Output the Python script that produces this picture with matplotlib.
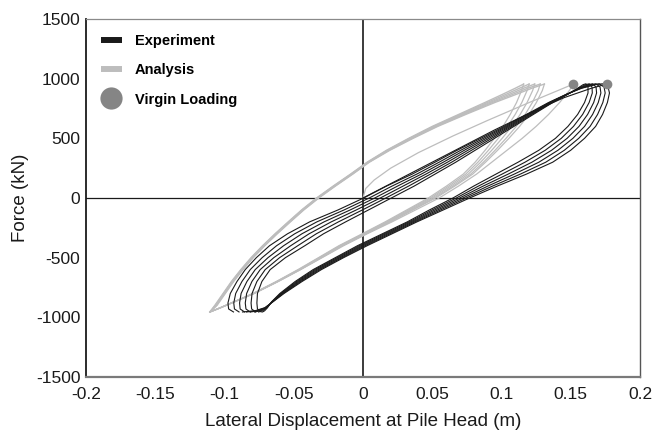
import matplotlib.pyplot as plt
from matplotlib.lines import Line2D

plt.rcParams['font.family'] = ['Liberation Sans', 'DejaVu Sans']
plt.rcParams['axes.unicode_minus'] = False

# experiment loops: shared force levels (kN), displacement (m) per cycle
exp_up_force = [-955, -930, -880, -800, -700, -600, -500, -400, -300, -200, -100, 0,
                100, 200, 300, 400, 500, 600, 700, 800, 870, 920, 950]
exp_up_x = [
    [-0.0735, -0.0762, -0.0766, -0.0762, -0.0730, -0.0670, -0.0560, -0.0420, -0.0285, -0.0125, 0.0040, 0.0205,
     0.0370, 0.0520, 0.0670, 0.0810, 0.0950, 0.1090, 0.1230, 0.1370, 0.1480, 0.1550, 0.1590],
    [-0.0775, -0.0804, -0.0808, -0.0801, -0.0766, -0.0706, -0.0602, -0.0471, -0.0337, -0.0177, -0.0004, 0.0165,
     0.0330, 0.0487, 0.0640, 0.0784, 0.0930, 0.1076, 0.1220, 0.1364, 0.1478, 0.1556, 0.1608],
    [-0.0815, -0.0845, -0.0850, -0.0840, -0.0802, -0.0742, -0.0644, -0.0522, -0.0389, -0.0229, -0.0048, 0.0125,
     0.0290, 0.0454, 0.0610, 0.0758, 0.0910, 0.1062, 0.1210, 0.1358, 0.1476, 0.1562, 0.1626],
    [-0.0855, -0.0887, -0.0891, -0.0880, -0.0838, -0.0778, -0.0686, -0.0573, -0.0441, -0.0281, -0.0092, 0.0085,
     0.0250, 0.0421, 0.0580, 0.0732, 0.0890, 0.1048, 0.1200, 0.1352, 0.1474, 0.1568, 0.1644],
    [-0.0895, -0.0928, -0.0933, -0.0919, -0.0874, -0.0814, -0.0728, -0.0624, -0.0493, -0.0333, -0.0136, 0.0045,
     0.0210, 0.0388, 0.0550, 0.0706, 0.0870, 0.1034, 0.1190, 0.1346, 0.1472, 0.1574, 0.1662],
    [-0.0935, -0.0970, -0.0975, -0.0958, -0.0910, -0.0850, -0.0770, -0.0675, -0.0545, -0.0385, -0.0180, 0.0005,
     0.0170, 0.0355, 0.0520, 0.0680, 0.0850, 0.1020, 0.1180, 0.1340, 0.1470, 0.1580, 0.1680],
]
exp_dn_force = [957, 930, 880, 800, 700, 600, 500, 400, 300, 200, 100, 0,
                -100, -200, -300, -400, -500, -600, -700, -800, -870, -920, -945, -955]
exp_dn_x = [
    [0.1610, 0.1625, 0.1625, 0.1600, 0.1550, 0.1480, 0.1390, 0.1270, 0.1120, 0.0960, 0.0800, 0.0650,
     0.0480, 0.0320, 0.0140, -0.0040, -0.0200, -0.0360, -0.0490, -0.0600, -0.0660, -0.0690, -0.0710, -0.0725],
    [0.1634, 0.1654, 0.1656, 0.1633, 0.1586, 0.1520, 0.1432, 0.1316, 0.1170, 0.1004, 0.0834, 0.0674,
     0.0500, 0.0334, 0.0154, -0.0026, -0.0188, -0.0348, -0.0480, -0.0594, -0.0658, -0.0694, -0.0724, -0.0754],
    [0.1658, 0.1683, 0.1687, 0.1666, 0.1622, 0.1560, 0.1474, 0.1362, 0.1220, 0.1048, 0.0868, 0.0698,
     0.0520, 0.0348, 0.0168, -0.0012, -0.0176, -0.0336, -0.0470, -0.0588, -0.0656, -0.0698, -0.0738, -0.0783],
    [0.1682, 0.1712, 0.1718, 0.1699, 0.1658, 0.1600, 0.1516, 0.1408, 0.1270, 0.1092, 0.0902, 0.0722,
     0.0540, 0.0362, 0.0182, 0.0002, -0.0164, -0.0324, -0.0460, -0.0582, -0.0654, -0.0702, -0.0752, -0.0812],
    [0.1706, 0.1741, 0.1749, 0.1732, 0.1694, 0.1640, 0.1558, 0.1454, 0.1320, 0.1136, 0.0936, 0.0746,
     0.0560, 0.0376, 0.0196, 0.0016, -0.0152, -0.0312, -0.0450, -0.0576, -0.0652, -0.0706, -0.0766, -0.0841],
    [0.1730, 0.1770, 0.1780, 0.1765, 0.1730, 0.1680, 0.1600, 0.1500, 0.1370, 0.1180, 0.0970, 0.0770,
     0.0580, 0.0390, 0.0210, 0.0030, -0.0140, -0.0300, -0.0440, -0.0570, -0.0650, -0.0710, -0.0780, -0.0870],
]
exp_virgin_x = [0, 0.010, 0.025, 0.045, 0.070, 0.095, 0.120, 0.145, 0.165, 0.176]
exp_virgin_f = [0, 60, 150, 270, 420, 570, 710, 840, 920, 955]

# analysis loops
ana_up_force = [-955, -900, -800, -700, -600, -500, -400, -300, -200, -100, 0,
                100, 200, 300, 400, 500, 600, 700, 800, 870, 920, 955]
ana_up_x = [
    [-0.1105, -0.1070, -0.1010, -0.0950, -0.0882, -0.0808, -0.0725, -0.0635, -0.0540, -0.0443, -0.0335,
     -0.0215, -0.0090, 0.0030, 0.0170, 0.0330, 0.0500, 0.0690, 0.0880, 0.1010, 0.1100, 0.1160],
    [-0.1105, -0.1066, -0.1006, -0.0946, -0.0878, -0.0804, -0.0721, -0.0631, -0.0536, -0.0439, -0.0331,
     -0.0211, -0.0086, 0.0034, 0.0176, 0.0338, 0.0510, 0.0703, 0.0898, 0.1035, 0.1130, 0.1200],
    [-0.1105, -0.1062, -0.1002, -0.0942, -0.0874, -0.0800, -0.0717, -0.0627, -0.0532, -0.0435, -0.0327,
     -0.0207, -0.0082, 0.0038, 0.0182, 0.0346, 0.0520, 0.0716, 0.0916, 0.1060, 0.1160, 0.1240],
    [-0.1105, -0.1058, -0.0998, -0.0938, -0.0870, -0.0796, -0.0713, -0.0623, -0.0528, -0.0431, -0.0323,
     -0.0203, -0.0078, 0.0042, 0.0188, 0.0354, 0.0530, 0.0729, 0.0934, 0.1085, 0.1190, 0.1280],
    [-0.1105, -0.1054, -0.0994, -0.0934, -0.0866, -0.0792, -0.0709, -0.0619, -0.0524, -0.0427, -0.0319,
     -0.0199, -0.0074, 0.0046, 0.0194, 0.0362, 0.0540, 0.0742, 0.0952, 0.1110, 0.1220, 0.1310],
]
ana_dn_force = [955, 900, 800, 700, 600, 500, 400, 300, 200, 100, 0,
                -100, -200, -300, -400, -500, -600, -700, -800, -870, -920, -955]
ana_dn_x = [
    [0.1520, 0.1490, 0.1420, 0.1340, 0.1250, 0.1150, 0.1040, 0.0930, 0.0820, 0.0690, 0.0550,
     0.0380, 0.0210, 0.0030, -0.0140, -0.0295, -0.0450, -0.0612, -0.0785, -0.0928, -0.1029, -0.1105],
    [0.1310, 0.1295, 0.1252, 0.1198, 0.1131, 0.1054, 0.0972, 0.0885, 0.0792, 0.0663, 0.0525,
     0.0361, 0.0198, 0.0024, -0.0148, -0.0300, -0.0452, -0.0614, -0.0786, -0.0928, -0.1029, -0.1105],
    [0.1280, 0.1265, 0.1223, 0.1171, 0.1107, 0.1033, 0.0954, 0.0870, 0.0778, 0.0651, 0.0514,
     0.0352, 0.0190, 0.0018, -0.0153, -0.0304, -0.0456, -0.0617, -0.0788, -0.0929, -0.1030, -0.1105],
    [0.1240, 0.1225, 0.1185, 0.1135, 0.1075, 0.1005, 0.0930, 0.0850, 0.0760, 0.0635, 0.0500,
     0.0340, 0.0180, 0.0010, -0.0160, -0.0310, -0.0460, -0.0620, -0.0790, -0.0930, -0.1030, -0.1105],
    [0.1200, 0.1185, 0.1147, 0.1099, 0.1043, 0.0977, 0.0906, 0.0830, 0.0742, 0.0619, 0.0486,
     0.0328, 0.0170, 0.0002, -0.0167, -0.0316, -0.0464, -0.0623, -0.0792, -0.0931, -0.1030, -0.1105],
    [0.1160, 0.1145, 0.1109, 0.1063, 0.1011, 0.0949, 0.0882, 0.0810, 0.0724, 0.0603, 0.0472,
     0.0316, 0.0160, -0.0006, -0.0174, -0.0321, -0.0469, -0.0626, -0.0794, -0.0932, -0.1031, -0.1105],
]
ana_virgin_x = [0, 0.002, 0.008, 0.020, 0.040, 0.065, 0.090, 0.120, 0.152]
ana_virgin_f = [0, 80, 150, 250, 380, 520, 650, 800, 955]

virgin_x = [0.152, 0.176]
virgin_f = [955, 955]

xticks = [-0.2, -0.15, -0.1, -0.05, 0, 0.05, 0.1, 0.15, 0.2]
xticklabels = ['-0.2', '-0.15', '-0.1', '-0.05', '0', '0.05', '0.1', '0.15', '0.2']
yticks = [-1500, -1000, -500, 0, 500, 1000, 1500]

BLACK = '#1a1a1a'
GRAY = '#bdbdbd'
DOT = '#858585'

fig = plt.figure(figsize=(6.54, 4.40), dpi=100)
ax = fig.add_axes([0.1315, 0.1432, 0.847, 0.8136])

ax.axhline(0, color=BLACK, lw=0.9, zorder=1)
ax.axvline(0, color=BLACK, lw=1.2, zorder=1)

# analysis (gray)
ax.plot(ana_virgin_x, ana_virgin_f, color=GRAY, lw=0.9, zorder=2)
for xs in ana_up_x:
    ax.plot(xs, ana_up_force, color=GRAY, lw=1.0, zorder=2)
for xs in ana_dn_x:
    ax.plot(xs, ana_dn_force, color=GRAY, lw=0.9, zorder=2)

# experiment (black)
ax.plot(exp_virgin_x, exp_virgin_f, color=BLACK, lw=0.8, zorder=3)
for xu, xd in zip(exp_up_x, exp_dn_x):
    ax.plot(xu + xd, exp_up_force + exp_dn_force, color=BLACK, lw=0.8, zorder=3)

ax.plot(virgin_x, virgin_f, 'o', color=DOT, ms=7, mec='none', zorder=4)

ax.set_xlim(-0.2, 0.2)
ax.set_ylim(-1500, 1500)
ax.set_xticks(xticks)
ax.set_xticklabels(xticklabels)
ax.set_yticks(yticks)
ax.tick_params(length=0, labelsize=12.5, colors='#1a1a1a')
ax.tick_params(axis='x', pad=7)
ax.tick_params(axis='y', pad=4)

ax.spines['left'].set_color(BLACK)
ax.spines['left'].set_linewidth(1.3)
ax.spines['bottom'].set_color('#7a7a7a')
ax.spines['bottom'].set_linewidth(1.6)
ax.spines['top'].set_color('#8a8a8a')
ax.spines['top'].set_linewidth(0.9)
ax.spines['right'].set_color('#555555')
ax.spines['right'].set_linewidth(1.0)

ax.set_xlabel('Lateral Displacement at Pile Head (m)', fontsize=13.5, labelpad=8, color='#1a1a1a')
ax.set_ylabel('Force (kN)', fontsize=13.5, labelpad=5, color='#1a1a1a')

handles = [
    Line2D([], [], color=BLACK, lw=4.3, solid_capstyle='butt'),
    Line2D([], [], color=GRAY, lw=4.3, solid_capstyle='butt'),
    Line2D([], [], color=DOT, marker='o', ls='none', ms=16, mec='none'),
]
ax.legend(handles, ['Experiment', 'Analysis', 'Virgin Loading'], loc='upper left',
          bbox_to_anchor=(0.003, 0.995), frameon=False, handlelength=1.45,
          handletextpad=0.9, labelspacing=1.05,
          prop={'weight': 'bold', 'size': 10.5})

fig.savefig('out.png', dpi=100)
